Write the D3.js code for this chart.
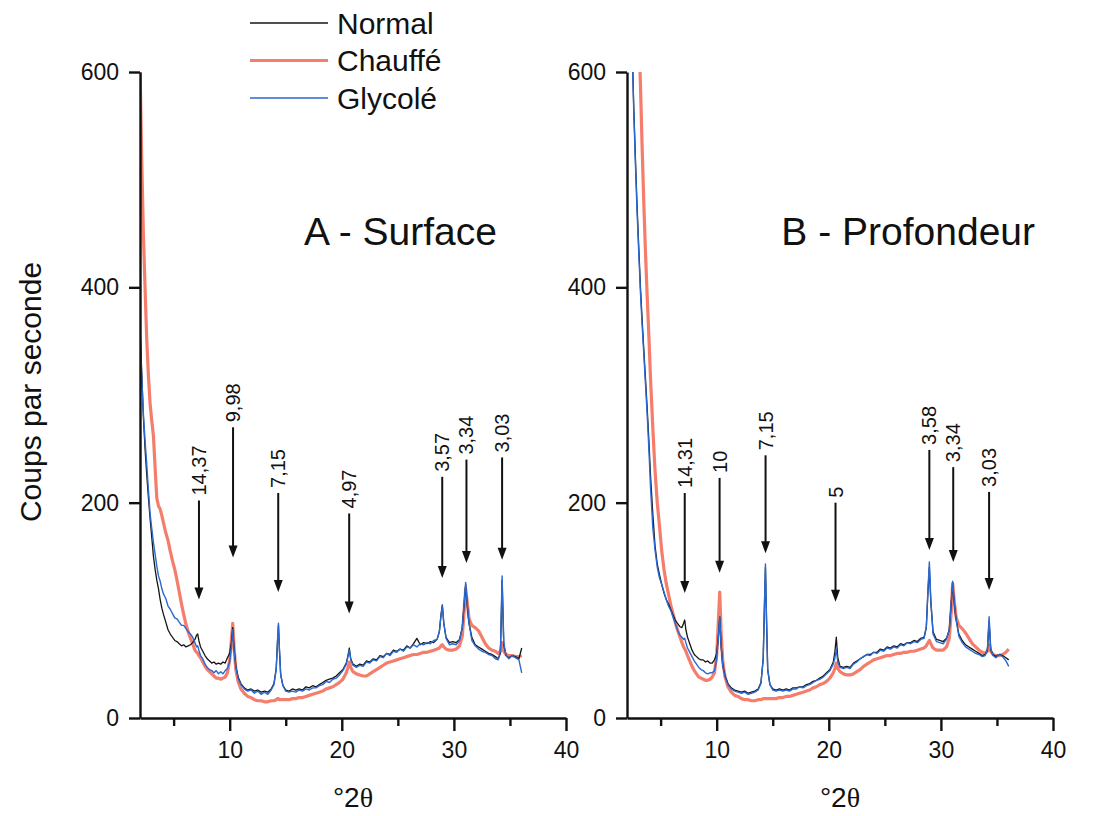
<!DOCTYPE html>
<html>
<head>
<meta charset="utf-8">
<script src="https://cdn.jsdelivr.net/npm/d3@7"></script>
<style>
    body { margin: 0; background: #fff; }
    svg  { display: block; }
    text { font-family: "Liberation Sans", Arial, sans-serif; fill: #111; }
</style>
</head>
<body>
<svg id="svg" width="1096" height="816"></svg>
<script>
// --- Data (counts per second vs °2θ) ---

const twoTheta = [
    2.0, 2.15, 2.3, 2.45, 2.6, 2.75, 2.9, 3.05, 3.2, 3.35,
    3.5, 3.65, 3.8, 3.95, 4.1, 4.3, 4.5, 4.7, 4.9, 5.1,
    5.3, 5.5, 5.7, 5.9, 6.1, 6.3, 6.5, 6.7, 6.9, 7.05,
    7.15, 7.25, 7.4, 7.6, 7.8, 8.0, 8.2, 8.4, 8.6, 8.8,
    9.0, 9.2, 9.4, 9.6, 9.8, 10.0, 10.15, 10.27, 10.4, 10.55,
    10.75, 11.0, 11.3, 11.6, 11.9, 12.2, 12.5, 12.8, 13.1, 13.4,
    13.7, 13.95, 14.15, 14.27, 14.35, 14.43, 14.55, 14.75, 15.0, 15.3,
    15.6, 15.9, 16.2, 16.5, 16.8, 17.1, 17.4, 17.7, 18.0, 18.3,
    18.6, 18.9, 19.2, 19.5, 19.8, 20.1, 20.4, 20.55, 20.67, 20.8,
    21.0, 21.3, 21.6, 21.9, 22.2, 22.5, 22.8, 23.1, 23.4, 23.7,
    24.0, 24.3, 24.6, 24.9, 25.2, 25.5, 25.8, 26.1, 26.4, 26.7,
    27.0, 27.3, 27.6, 27.9, 28.2, 28.5, 28.7, 28.85, 28.97, 29.1,
    29.3, 29.6, 29.9, 30.2, 30.5, 30.75, 30.92, 31.05, 31.18, 31.35,
    31.6, 31.9, 32.2, 32.5, 32.8, 33.1, 33.4, 33.7, 33.95, 34.15,
    34.3, 34.45, 34.65, 34.9, 35.2, 35.5, 35.8, 36.05
];

// A - Surface
const normalA = [
    365, 322, 280, 250, 226, 205, 185, 168, 150, 138,
    128, 120, 110, 102, 96, 89, 82, 78, 75, 72,
    71, 69, 67, 68, 66, 67, 68, 70, 73, 77,
    78, 72, 66, 62, 58, 55, 53, 51, 52, 50,
    51, 50, 52, 51, 56, 60, 70, 84, 64, 48,
    38, 32, 28, 26, 27, 25, 26, 24, 25, 24,
    27, 32, 46, 72, 86, 65, 40, 30, 26, 25,
    27, 26, 27, 26, 29, 28, 30, 29, 31, 33,
    35, 36, 37, 39, 42, 45, 51, 58, 65, 55,
    50, 48, 50, 49, 53, 52, 55, 54, 58, 57,
    60, 59, 63, 62, 64, 63, 67, 65, 69, 74,
    68, 70, 69, 71, 70, 73, 80, 96, 105, 88,
    75, 70, 71, 70, 73, 84, 106, 124, 106, 88,
    75, 68, 66, 64, 62, 60, 59, 57, 55, 60,
    128, 68, 58, 56, 58, 57, 55, 65
];
const chauffeA = [
    605, 520, 450, 400, 352, 318, 292, 276, 262, 232,
    204, 197, 194, 188, 181, 172, 165, 155, 146, 138,
    128, 117, 106, 96, 87, 80, 74, 69, 63, 61,
    60, 58, 56, 52, 48, 45, 43, 41, 39, 37,
    37, 36, 37, 38, 42, 54, 72, 88, 64, 45,
    34, 27, 23, 20, 19, 17, 16, 16, 15, 15,
    16, 16, 17, 18, 18, 17, 17, 17, 17, 17,
    18, 18, 19, 19, 20, 21, 22, 23, 24, 25,
    27, 28, 29, 31, 33, 36, 42, 47, 52, 47,
    43, 41, 40, 39, 39, 41, 43, 45, 47, 49,
    51, 52, 53, 54, 55, 56, 57, 58, 59, 59,
    60, 61, 61, 62, 63, 64, 65, 67, 68, 66,
    64, 63, 63, 64, 67, 76, 100, 120, 108, 92,
    86, 84, 81, 75, 69, 65, 63, 62, 60, 62,
    70, 62, 59, 58, 58, 57, 57, 58
];
const glycolA = [
    360, 318, 283, 258, 236, 212, 190, 176, 163, 152,
    141, 132, 127, 120, 115, 111, 104, 101, 97, 93,
    92, 89, 86, 86, 83, 80, 78, 75, 70, 66,
    67, 63, 58, 55, 50, 47, 45, 44, 42, 44,
    41, 43, 41, 44, 46, 52, 66, 82, 62, 47,
    37, 31, 27, 25, 26, 23, 25, 22, 24, 22,
    26, 31, 45, 72, 88, 66, 40, 30, 25, 24,
    25, 24, 26, 25, 27, 26, 28, 28, 30, 31,
    34, 33, 36, 37, 40, 44, 50, 57, 63, 54,
    49, 47, 49, 48, 52, 51, 54, 53, 57, 56,
    60, 58, 62, 61, 64, 62, 66, 65, 68, 66,
    69, 68, 70, 69, 72, 73, 80, 95, 104, 88,
    74, 68, 69, 68, 72, 84, 108, 126, 108, 88,
    72, 67, 64, 62, 61, 59, 58, 55, 54, 62,
    132, 70, 58, 55, 58, 56, 54, 42
];

// B - Profondeur (null = above the frame)
const normalB = [
    null, null, null, 628, 568, 520, 475, 437, 400, 370,
    342, 315, 288, 258, 225, 190, 160, 143, 133, 124,
    116, 110, 106, 101, 96, 91, 88, 85, 84, 88,
    91, 82, 75, 69, 63, 59, 57, 55, 54, 54,
    52, 53, 51, 51, 54, 60, 76, 94, 67, 49,
    39, 32, 28, 26, 25, 24, 25, 23, 24, 25,
    27, 33, 55, 108, 140, 98, 45, 31, 27, 26,
    27, 26, 27, 26, 28, 28, 29, 29, 31, 32,
    34, 35, 37, 39, 42, 45, 52, 62, 75, 56,
    48, 47, 48, 47, 51, 53, 55, 57, 59, 59,
    61, 61, 64, 63, 66, 65, 67, 66, 69, 68,
    70, 70, 72, 71, 74, 75, 84, 118, 140, 108,
    80, 73, 72, 71, 74, 82, 106, 125, 108, 92,
    78, 72, 68, 66, 64, 62, 60, 58, 59, 63,
    90, 63, 59, 57, 59, 58, 56, 54
];
const chauffeB = [
    null, null, null, null, null, null, null, 640, 588, 530,
    478, 432, 392, 355, 315, 270, 230, 200, 178, 155,
    138, 125, 115, 105, 97, 89, 82, 76, 70, 66,
    64, 62, 58, 53, 48, 44, 41, 38, 37, 36,
    35, 35, 36, 38, 42, 58, 90, 117, 78, 52,
    38, 29, 24, 21, 20, 18, 17, 17, 16, 16,
    17, 17, 18, 18, 18, 18, 18, 18, 18, 18,
    19, 19, 20, 20, 21, 22, 23, 24, 25, 26,
    28, 29, 31, 32, 34, 37, 42, 46, 51, 46,
    43, 41, 40, 40, 41, 43, 45, 48, 50, 52,
    54, 55, 56, 57, 58, 58, 59, 60, 60, 61,
    61, 62, 62, 63, 64, 65, 67, 70, 72, 69,
    65, 63, 63, 63, 66, 74, 98, 125, 110, 94,
    86, 83, 79, 74, 69, 66, 63, 61, 60, 62,
    68, 62, 59, 58, 58, 59, 61, 64
];
const glycolB = [
    null, null, null, 625, 565, 515, 470, 432, 395, 365,
    338, 310, 282, 250, 214, 177, 156, 140, 130, 124,
    117, 110, 104, 100, 94, 88, 82, 77, 75, 73,
    74, 70, 65, 61, 57, 53, 50, 47, 45, 44,
    42, 41, 42, 42, 44, 55, 75, 94, 66, 48,
    38, 31, 27, 25, 24, 23, 24, 22, 23, 24,
    26, 32, 55, 110, 143, 100, 45, 31, 26, 25,
    26, 25, 26, 25, 27, 27, 29, 28, 30, 31,
    33, 35, 36, 38, 41, 44, 50, 56, 64, 52,
    47, 46, 47, 46, 50, 52, 55, 57, 59, 58,
    61, 60, 63, 62, 65, 64, 66, 65, 68, 67,
    70, 69, 71, 70, 73, 74, 85, 120, 145, 110,
    78, 71, 70, 69, 73, 82, 108, 127, 110, 92,
    76, 70, 66, 64, 62, 60, 59, 57, 58, 64,
    94, 64, 58, 56, 59, 57, 53, 48
];

// peak annotations: d-spacing label, position (°2θ), arrow tip and tail (counts)
const peakLabelsA = ['14,37', '9,98', '7,15', '4,97', '3,57', '3,34', '3,03'];
const peakPosA    = [7.26, 10.3, 14.33, 20.66, 28.96, 31.12, 34.3];
const peakTipA    = [110, 149, 117, 97, 130, 144, 147];
const peakTailA   = [202, 270, 209, 190, 224, 240, 242];

const peakLabelsB = ['14,31', '10', '7,15', '5', '3,58', '3,34', '3,03'];
const peakPosB    = [7.15, 10.26, 14.36, 20.6, 28.97, 31.1, 34.3];
const peakTipB    = [116, 135, 153, 108, 156, 145, 119];
const peakTailB   = [209, 223, 244, 200, 249, 233, 210];

const seriesNames  = ['Normal', 'Chauffé', 'Glycolé'];
const panelTitles  = ['A - Surface', 'B - Profondeur'];
const yTicks       = [0, 200, 400, 600];
const xTicks       = [10, 20, 30, 40];
const xMinorTicks  = [5, 15, 25, 35];
const xDomain      = [2, 40];
const yDomain      = [0, 600];

// --- Styles ---
const STYLE = {
    'Normal':  { color: '#141414', width: 1.3 },
    'Chauffé': { color: '#f47d6c', width: 3.2 },
    'Glycolé': { color: '#2a68d2', width: 1.4 },
};
const DRAW_ORDER = ['Chauffé', 'Normal', 'Glycolé'];

const svg = d3.select('#svg');

const PANELS = [
    {
        id: 'A', left: 140, right: 566, title: panelTitles[0], titleEnd: 497,
        series: { 'Normal': normalA, 'Chauffé': chauffeA, 'Glycolé': glycolA },
        peaks: { labels: peakLabelsA, pos: peakPosA, tip: peakTipA, tail: peakTailA },
    },
    {
        id: 'B', left: 627, right: 1053, title: panelTitles[1], titleEnd: 1035,
        series: { 'Normal': normalB, 'Chauffé': chauffeB, 'Glycolé': glycolB },
        peaks: { labels: peakLabelsB, pos: peakPosB, tip: peakTipB, tail: peakTailB },
    },
];

const TOP    = 72;
const BOTTOM = 718;

function drawPanel(p) {
    const x = d3.scaleLinear().domain(xDomain).range([p.left, p.right]);
    const y = d3.scaleLinear().domain(yDomain).range([BOTTOM, TOP]);
    const g = svg.append('g').attr('class', 'panel-' + p.id);

    // --- Clip ---
    g.append('clipPath').attr('id', 'clip' + p.id)
        .append('rect')
        .attr('x', p.left).attr('y', TOP)
        .attr('width', p.right - p.left).attr('height', BOTTOM - TOP);

    // --- Lines ---
    const line = d3.line()
        .defined(d => d[1] != null)
        .x(d => x(d[0]))
        .y(d => y(d[1]));

    const lines = g.append('g').attr('clip-path', `url(#clip${p.id})`);
    DRAW_ORDER.forEach(name => {
        const vals = p.series[name];
        const pts  = twoTheta.map((t, i) => [t, vals[i]]);
        lines.append('path')
            .datum(pts)
            .attr('fill', 'none')
            .attr('stroke', STYLE[name].color)
            .attr('stroke-width', STYLE[name].width)
            .attr('stroke-linejoin', 'round')
            .attr('d', line);
    });

    // --- Axes ---
    g.append('g')
        .attr('transform', `translate(${p.left},0)`)
        .call(d3.axisLeft(y).tickValues(yTicks).tickSize(11).tickPadding(10).tickSizeOuter(0));

    g.append('g')
        .attr('transform', `translate(0,${BOTTOM})`)
        .call(d3.axisBottom(x).tickValues(xTicks).tickSize(13).tickPadding(11).tickSizeOuter(0));

    g.append('g')
        .attr('transform', `translate(0,${BOTTOM})`)
        .call(d3.axisBottom(x).tickValues(xMinorTicks).tickSize(8).tickFormat('').tickSizeOuter(0))
        .call(a => a.select('.domain').remove());

    g.selectAll('.domain, .tick line')
        .attr('stroke', '#111')
        .attr('stroke-width', 2.4);
    g.selectAll('.tick text')
        .attr('font-size', '23px')
        .style('font-family', '"Liberation Sans", Arial, sans-serif')
        .attr('fill', '#111');

    // x title
    const xt = g.append('text')
        .attr('x', (p.left + p.right) / 2)
        .attr('y', 807)
        .attr('text-anchor', 'middle')
        .attr('font-size', '28px');
    xt.append('tspan').text('°2');
    xt.append('tspan').style('font-family', '"Liberation Serif", serif').text('θ');

    // --- Panel title ---
    g.append('text')
        .attr('x', p.titleEnd)
        .attr('y', 245)
        .attr('text-anchor', 'end')
        .attr('font-size', '39px')
        .text(p.title);

    // --- Peak arrows ---
    const HEAD_L = 12;
    const HEAD_W = 4.5;
    const arrows = g.append('g');
    p.peaks.labels.forEach((lab, i) => {
        const ax   = x(p.peaks.pos[i]);
        const yTip = y(p.peaks.tip[i]);
        const yTop = y(p.peaks.tail[i]);
        arrows.append('line')
            .attr('x1', ax).attr('x2', ax)
            .attr('y1', yTop).attr('y2', yTip - HEAD_L + 1)
            .attr('stroke', '#111')
            .attr('stroke-width', 2);
        arrows.append('path')
            .attr('d', `M${ax},${yTip}L${ax - HEAD_W},${yTip - HEAD_L}L${ax + HEAD_W},${yTip - HEAD_L}Z`)
            .attr('fill', '#111');
        arrows.append('text')
            .attr('transform', `translate(${ax},${yTop - 5}) rotate(-90)`)
            .attr('dy', '0.35em')
            .attr('font-size', '20px')
            .text(lab);
    });
}

PANELS.forEach(drawPanel);

// --- Y title ---
svg.append('text')
    .attr('transform', 'translate(30,392) rotate(-90)')
    .attr('text-anchor', 'middle')
    .attr('dy', '0.35em')
    .attr('font-size', '30px')
    .text('Coups par seconde');

// --- Legend ---
const legend = svg.append('g').attr('transform', 'translate(250,23)');
seriesNames.forEach((name, i) => {
    const row = legend.append('g').attr('transform', `translate(0,${i * 37.5})`);
    row.append('line')
        .attr('x1', 0).attr('x2', 78)
        .attr('stroke', STYLE[name].color)
        .attr('stroke-width', name === 'Chauffé' ? 3 : 1.6);
    row.append('text')
        .attr('x', 87)
        .attr('dy', '0.35em')
        .attr('font-size', '30px')
        .text(name);
});
</script>
</body>
</html>
